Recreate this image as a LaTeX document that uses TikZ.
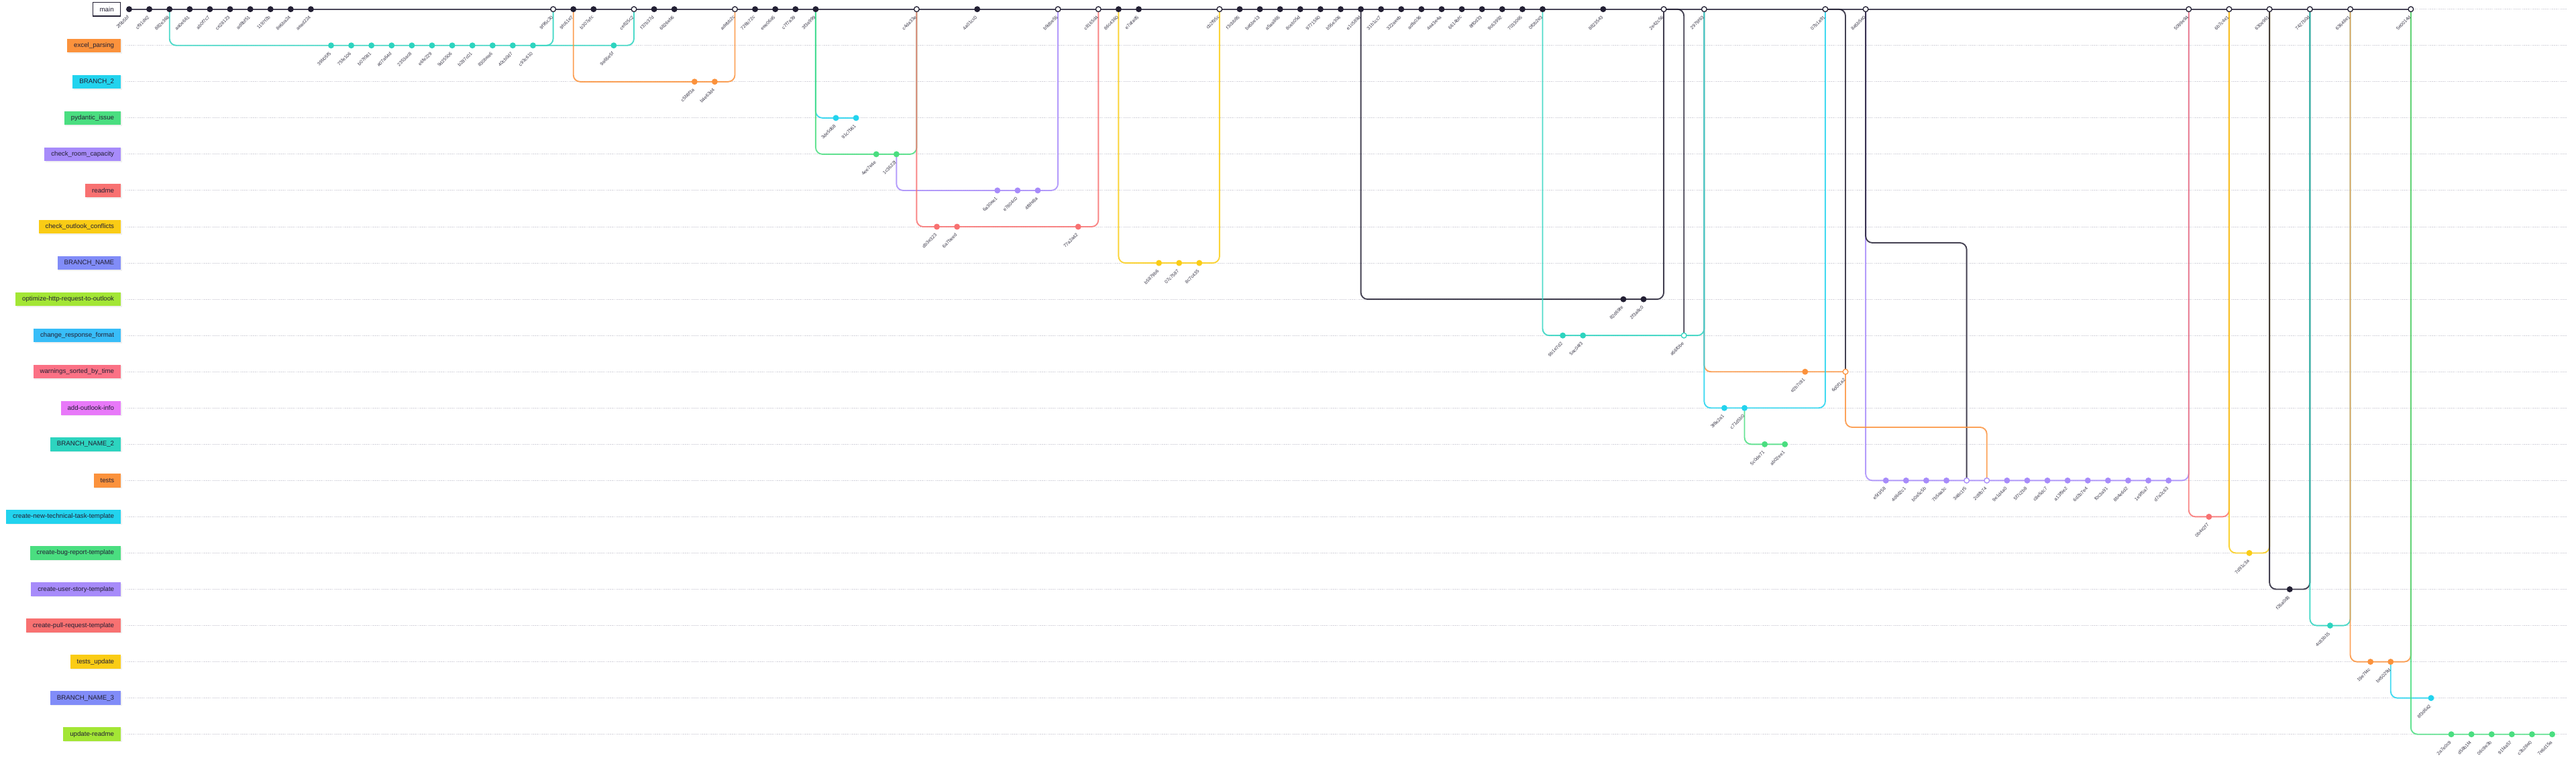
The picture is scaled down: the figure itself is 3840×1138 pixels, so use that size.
\documentclass[tikz,border=0pt]{standalone}
\usepackage{fontspec}
\setmainfont{Liberation Sans}
\usetikzlibrary{backgrounds,calc,shadows}
\definecolor{ink}{HTML}{221F33}
\definecolor{mainln}{HTML}{4A4759}
\definecolor{lanegray}{HTML}{D2D1DA}
\definecolor{hashtxt}{HTML}{3A3848}
% commit colours (by branch row)
\definecolor{cTeal}{HTML}{2DD4BF}
\definecolor{cOrange}{HTML}{FB923C}
\definecolor{cCyan}{HTML}{22D3EE}
\definecolor{cGreen}{HTML}{4ADE80}
\definecolor{cPurple}{HTML}{A78BFA}
\definecolor{cRed}{HTML}{F87171}
\definecolor{cYellow}{HTML}{FACC15}
% label colours
\definecolor{lIndigo}{HTML}{818CF8}
\definecolor{lLime}{HTML}{A3E635}
\definecolor{lSky}{HTML}{38BDF8}
\definecolor{lRose}{HTML}{FB7185}
\definecolor{lMagenta}{HTML}{E879F9}

% slot i, row r
\newcommand\cmt[4]{%
  \node[dot=#3] (c#1) at ({192.5+30.1*#1},{13.7+54.05*#2}) {};
  \node[hash] at ([shift={(-1,10.5)}]c#1.center) {#4};}
\newcommand\mrg[4]{%
  \node[ring=#3] (c#1) at ({192.5+30.1*#1},{13.7+54.05*#2}) {};
  \node[hash] at ([shift={(-1,10.5)}]c#1.center) {#4};}

\begin{document}
\begin{tikzpicture}[
  x=1pt,y=-1pt,
  dot/.style={circle,fill=#1,minimum size=9pt,inner sep=0pt},
  ring/.style={circle,draw=#1,fill=white,line width=1.3pt,minimum size=7.7pt,inner sep=0pt},
  hash/.style={font=\fontsize{7}{7}\selectfont,text=hashtxt,rotate=45,anchor=east,inner sep=0.5pt},
  tag/.style={fill=#1,text=ink,anchor=east,font=\fontsize{9.7}{10}\selectfont,
              minimum height=20.5pt,inner xsep=10pt,inner ysep=0pt,
              drop shadow={shadow xshift=1.5pt,shadow yshift=-1.5pt,opacity=0.12}},
  lane/.style={draw=lanegray,line width=1pt,dash pattern=on 1.6pt off 1.2pt},
  br/.style={draw=#1,line width=1.9pt,rounded corners=10pt,draw opacity=0.85},
  trunk/.style={draw=mainln,line width=2.2pt},
  ]
  \useasboundingbox (0,0) rectangle (3840,1138);

  % branch labels
  \node[tag=white,draw=ink,line width=1.3pt] (t0) at (180.3,13.7) {main};
  \foreach \r/\n/\c in {1/excel\_parsing/cOrange,2/BRANCH\_2/cCyan,3/pydantic\_issue/cGreen,
      4/check\_room\_capacity/cPurple,5/readme/cRed,6/check\_outlook\_conflicts/cYellow,
      7/BRANCH\_NAME/lIndigo,8/optimize-http-request-to-outlook/lLime,
      9/change\_response\_format/lSky,10/warnings\_sorted\_by\_time/lRose,
      11/add-outlook-info/lMagenta,12/BRANCH\_NAME\_2/cTeal,13/tests/cOrange,
      14/create-new-technical-task-template/cCyan,15/create-bug-report-template/cGreen,
      16/create-user-story-template/cPurple,17/create-pull-request-template/cRed,
      18/tests\_update/cYellow,19/BRANCH\_NAME\_3/lIndigo,20/update-readme/lLime}
    \node[tag=\c] (t\r) at (180.3,{13.7+54.05*\r}) {\n};

  % main
  \foreach \i/\h in {0/2f5b5bf,1/cf91de2,2/882e368,3/aa0e661,4/ab0f7c7,5/ce28123,
      6/ad8bf51,7/1197f2b,8/8e6ba24,9/aead224,22/9fc61e7,23/b307efc,26/f37b37d,
      27/6826eb6,31/726b72c,32/eee06a5,33/c7f7a39,34/3f3a999,42/4a01cc0,49/86c4360,
      50/e7afad5,55/f3cbb85,56/ba5be13,57/a5aa865,58/8ceb05d,59/9771560,60/b55e306,
      61/e1c589d,62/31b1cc7,63/322aeeb,64/adfa036,65/4e43e4a,66/6614bfc,67/8ff0d33,
      68/9c63992,69/7033065,70/0f0b2e3,73/8823543}
    {\cmt{\i}{0}{ink}{\h}}
  \foreach \i/\h in {21/9f95c30,25/ce825c2,30/adebb2c,39/c4da33e,46/b9dbe55,
      48/c8165d4,54/cb2f95c,76/2e42c56,78/2979f63,84/07b1a91,86/8a5b5e0,
      102/5099e94,104/6b7c4e1,106/630e961,108/7427b0d,110/63648e1,113/5e0014d}
    {\mrg{\i}{0}{ink}{\h}}

  % excel_parsing
  \foreach \i/\h in {10/39b05f5,11/75fe106,12/b07f081,13/a07a64d,14/2353ac8,
      15/e6fe229,16/9d25506,17/b287c01,18/830bea6,19/40cb0d7,20/c93c610,24/9a65e5f}
    {\cmt{\i}{1}{cTeal}{\h}}
  % BRANCH_2
  \cmt{28}{2}{cOrange}{c5b8f3a}
  \cmt{29}{2}{cOrange}{b4e63d4}
  % pydantic_issue, check_room_capacity
  \cmt{35}{3}{cCyan}{3de5d68}
  \cmt{36}{3}{cCyan}{91c7b61}
  \cmt{37}{4}{cGreen}{4ee7e4e}
  \cmt{38}{4}{cGreen}{1c3622f}
  % readme
  \cmt{43}{5}{cPurple}{6a30ee1}
  \cmt{44}{5}{cPurple}{e7804c0}
  \cmt{45}{5}{cPurple}{4f8fe8a}
  % check_outlook_conflicts
  \cmt{40}{6}{cRed}{db3e323}
  \cmt{41}{6}{cRed}{6a7beed}
  \cmt{47}{6}{cRed}{77a2a42}
  % BRANCH_NAME
  \cmt{51}{7}{cYellow}{b5879b6}
  \cmt{52}{7}{cYellow}{07c7587}
  \cmt{53}{7}{cYellow}{8c7c435}
  % optimize-http-request-to-outlook
  \cmt{74}{8}{ink}{82d69fe}
  \cmt{75}{8}{ink}{2f3a8c0}
  % change_response_format
  \cmt{71}{9}{cTeal}{9b1e7d2}
  \cmt{72}{9}{cTeal}{5ac04f3}
  \mrg{77}{9}{cTeal}{a56f0be}
  % warnings_sorted_by_time
  \cmt{83}{10}{cOrange}{e2b7c91}
  \mrg{85}{10}{cOrange}{6d0f1a2}
  % add-outlook-info
  \cmt{79}{11}{cCyan}{3f8e2a1}
  \cmt{80}{11}{cCyan}{c71d5b0}
  % BRANCH_NAME_2
  \cmt{81}{12}{cGreen}{5c0de71}
  \cmt{82}{12}{cGreen}{ab02ee1}
  % tests
  \foreach \i/\h in {87/e5f1f58,88/4d6d2c1,89/b0a5c5b,90/7b5aa3c,93/9e1d4a0,
      94/5f7c2b8,95/c8e5dc7,96/a13f9e2,97/6d2b7e4,98/f0c3a91,99/8b4e6d2,
      100/1e9f5a7,101/d7a2c63}
    {\cmt{\i}{13}{cPurple}{\h}}
  \mrg{91}{13}{cPurple}{3a8c1f5}
  \mrg{92}{13}{cPurple}{2c8fb74}
  % templates and the rest
  \cmt{103}{14}{cRed}{0b4e2f7}
  \cmt{105}{15}{cYellow}{7d91c3a}
  \cmt{107}{16}{ink}{f26a0d8}
  \cmt{109}{17}{cTeal}{4c83b15}
  \cmt{111}{18}{cOrange}{19e7f4c}
  \cmt{112}{18}{cOrange}{be5029d}
  \cmt{114}{19}{cCyan}{8f3d6a2}
  \foreach \i/\h in {115/2a7e0c9,116/d58b1f4,117/06c9e3b,118/91f4a57,119/c3b28e0,120/7e6d15a}
    {\cmt{\i}{20}{cGreen}{\h}}

  \coordinate (k91) at ({192.5+30.1*91},362);
  \coordinate (k92) at ({192.5+30.1*92},637);

  \begin{scope}[on background layer]
    \foreach \r in {0,...,20}
      \draw[lane] ([xshift=6.5pt]t\r.east) -- ++(3640,0);
    \draw[trunk] (c0.center) -- (c113.center);
    % excel_parsing
    \draw[br=cTeal] (c2.center) |- (c10.center) -- (c20.center) -- (c24.center);
    \draw[br=cTeal] (c20.center) -| (c21.center);
    \draw[br=cTeal] (c24.center) -| (c25.center);
    % BRANCH_2
    \draw[br=cOrange] (c22.center) |- (c28.center) -- (c29.center) -| (c30.center);
    % pydantic_issue / check_room_capacity
    \draw[br=cCyan] (c34.center) |- (c35.center) -- (c36.center);
    \draw[br=cGreen] (c34.center) |- (c37.center) -- (c38.center) -| (c39.center);
    % readme
    \draw[br=cPurple] (c38.center) |- (c43.center) -- (c45.center) -| (c46.center);
    % check_outlook_conflicts
    \draw[br=cRed] (c39.center) |- (c40.center) -- (c47.center) -| (c48.center);
    % BRANCH_NAME
    \draw[br=cYellow] (c49.center) |- (c51.center) -- (c53.center) -| (c54.center);
    % optimize
    \draw[br=ink] (c61.center) |- (c74.center) -- (c75.center) -| (c76.center);
    % change_response_format
    \draw[br=cTeal] (c70.center) |- (c71.center) -- (c77.center) -| (c78.center);
    \draw[br=ink] (c76.center) -| (c77.center);
    % warnings / add-outlook / BRANCH_NAME_2
    \draw[br=cOrange] (c78.center) |- (c83.center) -- (c85.center);
    \draw[br=cCyan] (c78.center) |- (c79.center) -- (c80.center) -| (c84.center);
    \draw[br=cGreen] (c80.center) |- (c81.center) -- (c82.center);
    \draw[br=ink] (c84.center) -| (c85.center);
    % tests
    \draw[br=cPurple] (c86.center) |- (c87.center) -- (c101.center) -| (c102.center);
    \draw[br=ink] (c86.center) |- (k91) -- (c91.center);
    \draw[br=cOrange] (c85.center) |- (k92) -- (c92.center);
    % templates
    \draw[br=cRed] (c102.center) |- (c103.center) -| (c104.center);
    \draw[br=cYellow] (c104.center) |- (c105.center) -| (c106.center);
    \draw[br=ink] (c106.center) |- (c107.center) -| (c108.center);
    \draw[br=cTeal] (c108.center) |- (c109.center) -| (c110.center);
    \draw[br=cOrange] (c110.center) |- (c111.center) -- (c112.center) -| (c113.center);
    \draw[br=cCyan] (c112.center) |- (c114.center);
    \draw[br=cGreen] (c113.center) |- (c115.center) -- (c120.center);
  \end{scope}
\end{tikzpicture}
\end{document}
